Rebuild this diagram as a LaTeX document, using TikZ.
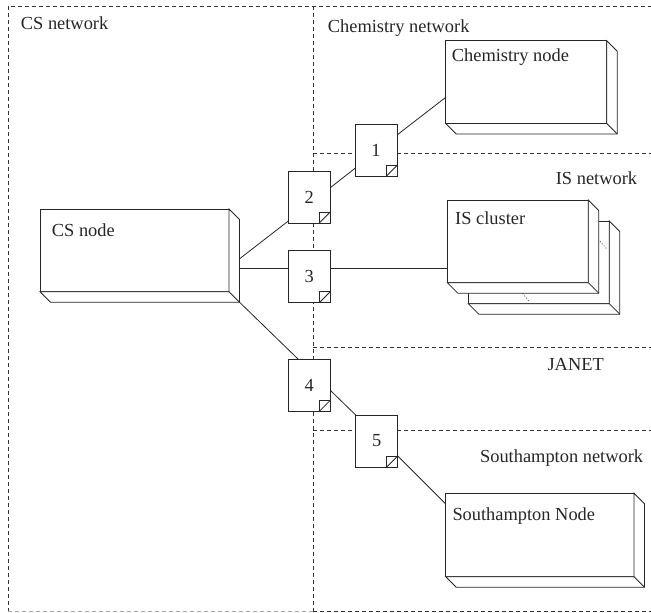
\documentclass[tikz,border=0pt]{standalone}
\usepackage{fontspec}
\setmainfont{Liberation Serif}
\usetikzlibrary{calc}
\definecolor{linec}{HTML}{262626}
\definecolor{framec}{HTML}{333333}
\definecolor{lightframe}{HTML}{AAAAAA}
\newcommand\dd{10.5}
\newcommand\boxdepth[1]{%
  \filldraw[boxline, fill=white] (#1.north east) -- ++(\dd,\dd) -- ([shift={(\dd,\dd)}]#1.south east) -- ([shift={(\dd,\dd)}]#1.south west) -- (#1.south west) -- (#1.south east) -- cycle;
  \draw[boxline] (#1.south east) -- ++(\dd,\dd);}
\newcommand\docfold[1]{%
  \draw[boxline] ([shift={(-11,0)}]#1.south east) -- ++(0,-11) -- ++(11,0);
  \draw[boxline] ([shift={(-11,0)}]#1.south east) -- ++(11,-11);}
\tikzset{
  lbl/.style={font=\fontsize{18.4}{22}\selectfont, inner sep=0pt, text=linec},
  boxline/.style={draw=linec, line width=0.8pt},
  frame/.style={draw=framec, line width=0.8pt, dash pattern=on 4pt off 3pt},
  lightframe/.style={draw=lightframe, line width=0.8pt, dash pattern=on 4pt off 3pt},
  nodebox/.style={boxline, fill=white, rectangle, anchor=north west, inner sep=0pt, outer sep=0pt, minimum height=82.7pt},
  doc/.style={boxline, fill=white, rectangle, inner sep=0pt, outer sep=0pt, minimum width=42pt, minimum height=52pt, font=\fontsize{18.4}{22}\selectfont, text=linec},
  conn/.style={draw=linec, line width=0.8pt},
  hidden/.style={draw=linec, line width=0.8pt, dotted},
}
\begin{document}
\begin{tikzpicture}[x=1pt, y=-1pt]
\useasboundingbox (0,0) rectangle (651,613);
% frames
\draw[frame] (8,612) -- (8,6) -- (651,6);
\draw[lightframe] (8,611.5) -- (313,611.5);
\draw[frame] (313,611.5) -- (651,611.5);
\draw[frame] (313,6) -- (313,611.5);
\draw[frame] (313,153) -- (651,153);
\draw[frame] (313,347) -- (651,347);
\draw[frame] (313,430) -- (651,430);
% network labels
\node[lbl, anchor=base west] (tcs) at (20.7,30) {CS network};
\node[lbl, anchor=base west] (tchem) at (327.7,32.5) {Chemistry network};
\node[lbl, anchor=base east] (tis) at (637.3,184) {IS network};
\node[lbl, anchor=base east] (tjanet) at (604,370) {JANET};
\node[lbl, anchor=base east] (tsoton) at (643.3,462.7) {Southampton network};
% 3D nodes
\node[nodebox, minimum width=189pt] (cs) at (40,209) {};
\boxdepth{cs}
\node[lbl, anchor=base west] (tcsn) at (51.7,236) {CS node};
\node[nodebox, minimum width=161pt] (chem) at (445.7,40.7) {};
\boxdepth{chem}
\node[lbl, anchor=base west] (tchemn) at (451.7,61.7) {Chemistry node};
\node[nodebox, minimum width=141pt] (isb) at (468.3,221) {};
\boxdepth{isb}
\node[nodebox, minimum width=141pt] (isf) at (447.3,200) {};
\boxdepth{isf}
\draw[hidden] (600,241.5) -- (607.3,249.5);
\draw[hidden] (522.7,293.5) -- (529.3,301.7);
\node[lbl, anchor=base west] (tisc) at (455,224) {IS cluster};
\node[nodebox, minimum width=188.3pt, minimum height=83.4pt] (soton) at (445.7,493.3) {};
\boxdepth{soton}
\node[lbl, anchor=base west] (tsotonn) at (452.3,520) {Southampton Node};
% documents
\node[doc, anchor=north west] (d1) at (355,124.5) {1};
\docfold{d1}
\node[doc, anchor=north west] (d2) at (288.3,171) {2};
\docfold{d2}
\node[doc, anchor=north west] (d3) at (288.3,250.7) {3};
\docfold{d3}
\node[doc, anchor=north west] (d4) at (288.3,359.3) {4};
\docfold{d4}
\node[doc, anchor=north west] (d5) at (355.7,415) {5};
\docfold{d5}
% connectors
\coordinate (c3) at ([shift={(\dd,17.8)}]cs.east);
\draw[conn] ([shift={(\dd,8.5)}]cs.east) -- ([shift={(0,-2)}]d2.south west);
\draw[conn] (c3) -- (c3 -| d3.west);
\draw[conn] ([shift={(\dd,\dd)}]cs.south east) -- ([shift={(10,0)}]d4.north west);
\draw[conn] ([shift={(0,-9.3)}]d2.east) -- ([shift={(0,17.8)}]d1.west);
\draw[conn] ([shift={(0,-15.5)}]d1.east) -- ([shift={(0,15.3)}]chem.west);
\draw[conn] (c3 -| d3.east) -- (c3 -| isf.west);
\draw[conn] ([shift={(0,5)}]d4.east) -- (d5.north west);
\draw[conn] ([shift={(0,-11)}]d5.south east) -- ([shift={(0,10.7)}]soton.north west);
\end{tikzpicture}
\end{document}
